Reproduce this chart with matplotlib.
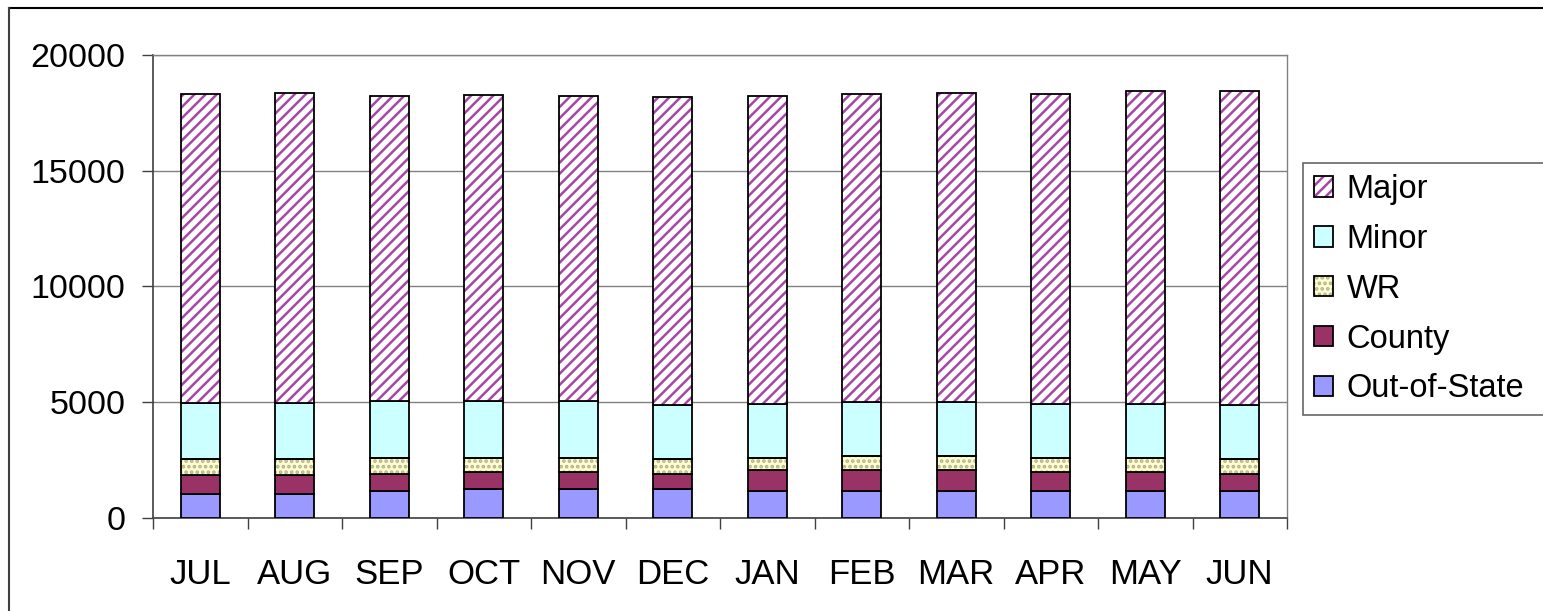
import matplotlib
matplotlib.use("Agg")
import matplotlib.pyplot as plt
import numpy as np
from matplotlib.patches import Patch
from matplotlib.lines import Line2D
from matplotlib.legend_handler import HandlerTuple

plt.rcParams['font.family'] = ['Liberation Sans', 'DejaVu Sans']
plt.rcParams['hatch.linewidth'] = 1.8

months = ["JUL", "AUG", "SEP", "OCT", "NOV", "DEC", "JAN", "FEB", "MAR", "APR", "MAY", "JUN"]
out_of_state = [1010, 1010, 1140, 1220, 1220, 1220, 1150, 1150, 1150, 1150, 1150, 1150]
county = [840, 840, 760, 750, 750, 680, 910, 910, 910, 820, 820, 750]
wr = [690, 690, 700, 630, 630, 640, 540, 600, 600, 630, 630, 640]
minor = [2410, 2410, 2440, 2440, 2440, 2330, 2330, 2330, 2330, 2330, 2330, 2330]
major = [13370, 13420, 13200, 13220, 13200, 13300, 13310, 13310, 13380, 13370, 13500, 13560]

series = [
    ("Out-of-State", out_of_state, "#9999FF", None, None),
    ("County", county, "#993366", None, None),
    ("WR", wr, "#FFFFCC", "...", "#B0B098"),
    ("Minor", minor, "#CCFFFF", None, None),
    ("Major", major, "#FFFFFF", "///", "#A548A5"),
]

W, H, DPI = 1543, 611, 100
fig = plt.figure(figsize=(W / DPI, H / DPI), dpi=DPI)
fig.patch.set_facecolor("white")

ax_l, ax_r, ax_t, ax_b = 153, 1287, 55, 517.7
ax = fig.add_axes([ax_l / W, (H - ax_b) / H, (ax_r - ax_l) / W, (ax_b - ax_t) / H])

x = np.arange(len(months))
bw = 0.41
bottom = np.zeros(len(months))
handles = {}
for name, vals, fc, hatch, hc in series:
    vals = np.array(vals, dtype=float)
    if hatch:
        ax.bar(x, vals, bw, bottom=bottom, facecolor=fc, edgecolor=hc, hatch=hatch, linewidth=0, zorder=3)
        ax.bar(x, vals, bw, bottom=bottom, facecolor="none", edgecolor="black", linewidth=1.3, zorder=4)
        h = (Patch(facecolor=fc, edgecolor=hc, hatch=hatch, linewidth=0),
             Patch(facecolor="none", edgecolor="black", linewidth=1.3))
    else:
        ax.bar(x, vals, bw, bottom=bottom, facecolor=fc, edgecolor="black", linewidth=1.3, zorder=3)
        h = Patch(facecolor=fc, edgecolor="black", linewidth=1.3)
    handles[name] = h
    bottom += vals

ax.set_xlim(-0.5, len(months) - 0.5)
ax.set_ylim(0, 20000)
ax.set_yticks(np.arange(0, 20001, 5000))
ax.yaxis.grid(True, color="#808080", linewidth=1.0, zorder=0)
ax.set_axisbelow(True)

ax.set_xticks(x)
ax.set_xticklabels(months)
ax.set_xticks(np.arange(-0.5, len(months), 1.0), minor=True)
ax.tick_params(axis="x", which="major", length=0, pad=29, labelsize=25)
ax.tick_params(axis="x", which="minor", length=8, width=1.0, color="#404040", direction="out")
ax.tick_params(axis="y", which="major", length=8, width=1.0, color="#404040", direction="out", pad=12, labelsize=24.5)

for s in ["left", "bottom"]:
    ax.spines[s].set_color("#404040")
    ax.spines[s].set_linewidth(1.2)
for s in ["right", "top"]:
    ax.spines[s].set_color("#808080")
    ax.spines[s].set_linewidth(1.0)

order = ["Major", "Minor", "WR", "County", "Out-of-State"]
leg_x0 = 1303 / W
leg_top = 1 - 163 / H
leg_bot = 1 - 409 / H
leg = fig.legend([handles[n] for n in order], order,
                 handler_map={tuple: HandlerTuple(ndivide=1)},
                 loc="upper left", bbox_to_anchor=(leg_x0, leg_bot, 0.2, leg_top - leg_bot),
                 mode="expand", borderaxespad=0, fontsize=23.5, frameon=True, fancybox=False,
                 handlelength=0.6, handleheight=0.6, handletextpad=0.4,
                 labelspacing=0.58, borderpad=0.33)
leg.get_frame().set_edgecolor("#404040")
leg.get_frame().set_linewidth(1.2)

fig.add_artist(Line2D([9 / W, 1.0], [1 - 8 / H, 1 - 8 / H], transform=fig.transFigure, color="black", linewidth=1.5))
fig.add_artist(Line2D([9 / W, 9 / W], [0, 1 - 8 / H], transform=fig.transFigure, color="#404040", linewidth=1.5))

fig.savefig("out.png", dpi=DPI)
